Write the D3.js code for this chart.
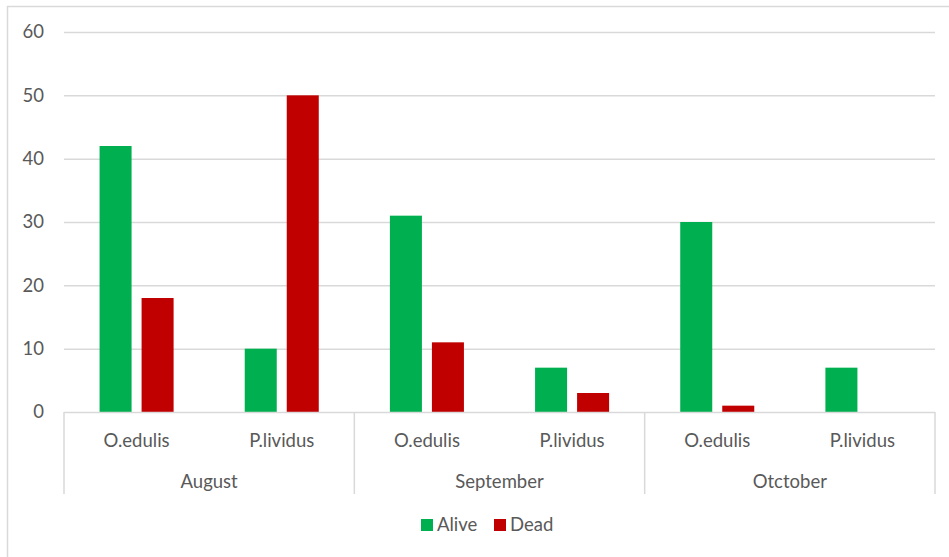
<!DOCTYPE html>
<html>
<head>
<meta charset="utf-8">
<script src="https://cdn.jsdelivr.net/npm/d3@7"></script>
<style>
  html, body { margin: 0; padding: 0; background: #fff; }
  svg { display: block; }
  text { font-family: Lato, "Open Sans", sans-serif; fill: #595959; }
</style>
</head>
<body>
<svg id="chart" width="949" height="557"></svg>
<script>
// Counts per month and species
const months = ["August", "September", "Otctober"];
const species = ["O.edulis", "P.lividus"];
const seriesNames = ["Alive", "Dead"];
const alive = [42, 10, 31, 7, 30, 7];
const dead = [18, 50, 11, 3, 1, 0];
const yTicks = [0, 10, 20, 30, 40, 50, 60];
const colors = ["#00b050", "#c00000"];

const svg = d3.select("#chart");
const W = 949, H = 557;
const plot = { left: 64, right: 935, top: 32, bottom: 412 };

// chart frame
svg.append("rect")
  .attr("x", 7.5).attr("y", 6.5)
  .attr("width", W + 10).attr("height", H + 10)
  .attr("fill", "#fff").attr("stroke", "#d9d9d9").attr("stroke-width", 1.5);

// rows: one per month/species pair
const rows = [];
months.forEach((m, i) => species.forEach((s, j) => {
  const k = i * species.length + j;
  rows.push({ key: m + "|" + s, month: m, species: s, values: [alive[k], dead[k]] });
}));

const y = d3.scaleLinear().domain([0, 60]).range([plot.bottom, plot.top]);

const x0 = d3.scaleBand()
  .domain(rows.map(r => r.key))
  .range([plot.left, plot.right])
  .paddingInner(0.49)
  .paddingOuter(0.245);

const x1 = d3.scaleBand()
  .domain(seriesNames)
  .range([0, x0.bandwidth()])
  .paddingInner(0.238);

// gridlines
svg.append("g")
  .selectAll("line")
  .data(yTicks.filter(t => t > 0))
  .join("line")
  .attr("x1", plot.left).attr("x2", plot.right)
  .attr("y1", d => y(d) + 0.5).attr("y2", d => y(d) + 0.5)
  .attr("stroke", "#d9d9d9").attr("stroke-width", 1.5);

// y axis labels
const yAxis = d3.axisLeft(y).tickValues(yTicks).tickSize(0).tickPadding(20);
const gy = svg.append("g").attr("transform", `translate(${plot.left},0)`).call(yAxis);
gy.select(".domain").remove();
gy.selectAll("text")
  .attr("font-family", "Lato, 'Open Sans', sans-serif")
  .attr("font-size", 18.5)
  .attr("fill", "#595959");

// bars
const groups = svg.append("g")
  .selectAll("g")
  .data(rows)
  .join("g")
  .attr("transform", d => `translate(${x0(d.key)},0)`);

groups.selectAll("rect")
  .data(d => d.values.map((v, i) => ({ series: seriesNames[i], value: v, i })))
  .join("rect")
  .attr("x", d => x1(d.series))
  .attr("width", x1.bandwidth())
  .attr("y", d => y(d.value))
  .attr("height", d => y(0) - y(d.value))
  .attr("fill", d => colors[d.i]);

// category axis: baseline, month dividers and labels
svg.append("line")
  .attr("x1", plot.left).attr("x2", plot.right)
  .attr("y1", plot.bottom + 0.5).attr("y2", plot.bottom + 0.5)
  .attr("stroke", "#d9d9d9").attr("stroke-width", 1.5);

const monthScale = d3.scaleBand().domain(months).range([plot.left, plot.right]);
const dividers = months.map(m => monthScale(m)).concat([plot.right]);
svg.append("g")
  .selectAll("line")
  .data(dividers)
  .join("line")
  .attr("x1", d => d).attr("x2", d => d)
  .attr("y1", plot.bottom).attr("y2", 494)
  .attr("stroke", "#d9d9d9").attr("stroke-width", 1.5);

svg.append("g")
  .selectAll("text")
  .data(rows)
  .join("text")
  .attr("x", d => x0(d.key) + x0.bandwidth() / 2)
  .attr("y", 447)
  .attr("text-anchor", "middle")
  .attr("font-size", 18.5)
  .text(d => d.species);

svg.append("g")
  .selectAll("text")
  .data(months)
  .join("text")
  .attr("x", d => monthScale(d) + monthScale.bandwidth() / 2)
  .attr("y", 488)
  .attr("text-anchor", "middle")
  .attr("font-size", 18.5)
  .text(d => d);

// legend
const legend = svg.append("g");
const legendX = [421, 494];
seriesNames.forEach((name, i) => {
  legend.append("rect")
    .attr("x", legendX[i]).attr("y", 519)
    .attr("width", 12).attr("height", 12)
    .attr("fill", colors[i]);
  legend.append("text")
    .attr("x", legendX[i] + 16).attr("y", 531)
    .attr("font-size", 18.5)
    .text(name);
});
</script>
</body>
</html>
